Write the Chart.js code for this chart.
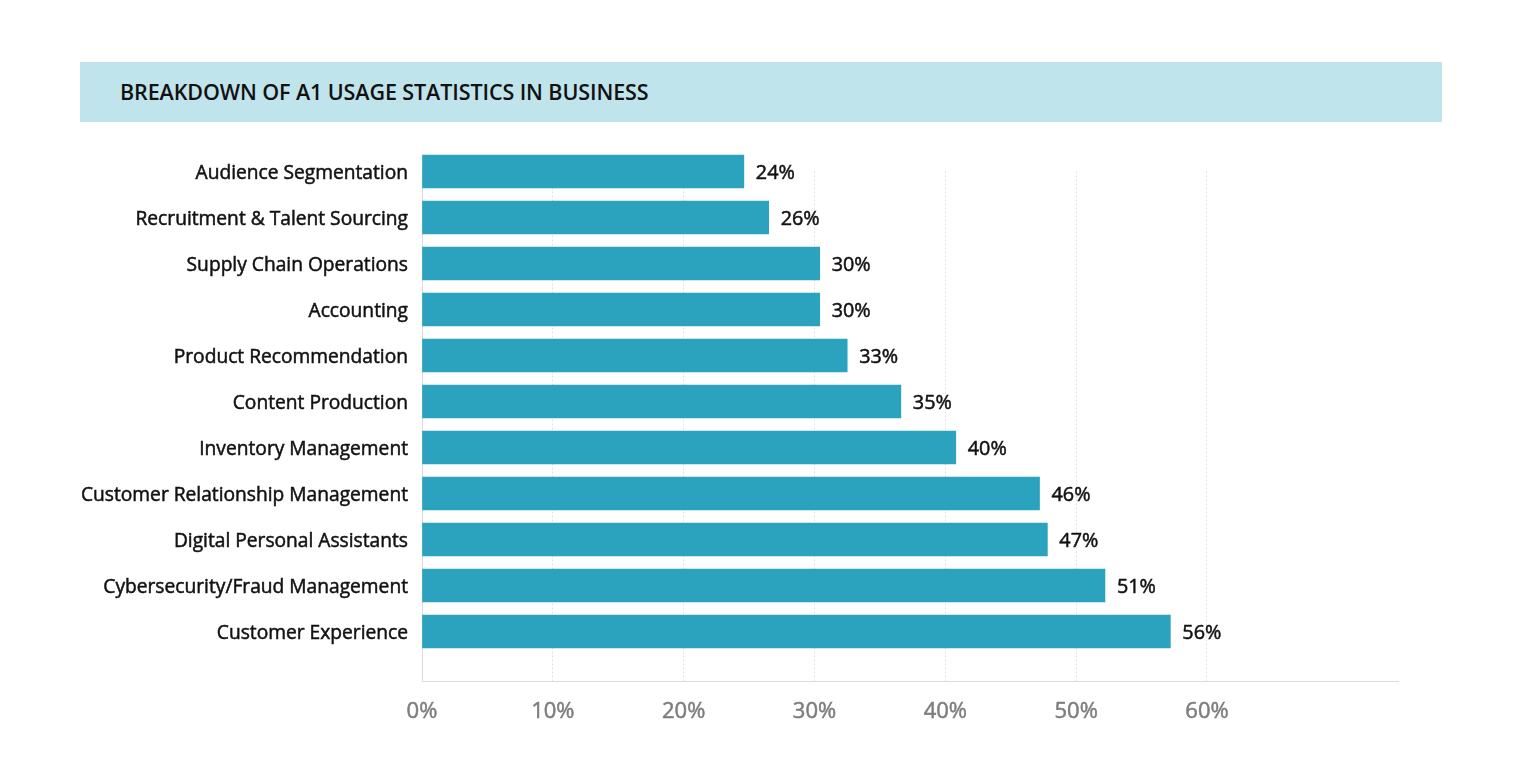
<!DOCTYPE html>
<html>
<head>
<meta charset="utf-8">
<title>Breakdown of A1 usage statistics in business</title>
<script src="https://cdn.jsdelivr.net/npm/chart.js@4/dist/chart.umd.min.js"></script>
<style>
    html, body { margin: 0; padding: 0; background: #fff; }
    body { width: 1521px; height: 781px; position: relative; overflow: hidden; font-family: "Open Sans", sans-serif; }
    .title-bar {
        position: absolute; left: 80px; top: 62px; width: 1362px; height: 60px;
        background: #c0e4ec; box-sizing: border-box; padding-left: 40px;
        font-size: 21.5px; font-weight: 600; color: #111; line-height: 60px;
        letter-spacing: -0.1px;
    }
    #chartWrap { position: absolute; left: 0; top: 0; width: 1521px; height: 781px; }
</style>
</head>
<body>
<div class="title-bar">BREAKDOWN OF A1 USAGE STATISTICS IN BUSINESS</div>
<div id="chartWrap"><canvas id="usageChart"></canvas></div>

<script>
// categories, top to bottom
const categories = [
    'Audience Segmentation',
    'Recruitment & Talent Sourcing',
    'Supply Chain Operations',
    'Accounting',
    'Product Recommendation',
    'Content Production',
    'Inventory Management',
    'Customer Relationship Management',
    'Digital Personal Assistants',
    'Cybersecurity/Fraud Management',
    'Customer Experience'
];

// bar lengths as drawn in the picture (%)
const barValues = [24.6, 26.5, 30.4, 30.4, 32.5, 36.6, 40.8, 47.2, 47.8, 52.2, 57.2];

// value labels as printed next to the bars
const valueLabels = ['24%', '26%', '30%', '30%', '33%', '35%', '40%', '46%', '47%', '51%', '56%'];

// x axis ticks
const xTicks = [0, 10, 20, 30, 40, 50, 60];

const barColor = '#2ba3bf';

// labels at the end of each bar
const barLabelPlugin = {
    id: 'barLabels',
    afterDatasetsDraw(chart) {
        const ctx = chart.ctx;
        const meta = chart.getDatasetMeta(0);
        ctx.save();
        ctx.font = '19.8px "Open Sans", sans-serif';
        ctx.fillStyle = '#111';
        ctx.strokeStyle = '#111';
        ctx.lineWidth = 0.5;
        ctx.textAlign = 'left';
        ctx.textBaseline = 'middle';
        meta.data.forEach((bar, i) => {
            ctx.strokeText(valueLabels[i], bar.x + 12, bar.y + 1.5);
            ctx.fillText(valueLabels[i], bar.x + 12, bar.y + 1.5);
        });
        ctx.restore();
    }
};

document.addEventListener('DOMContentLoaded', function() {
    const ctx = document.getElementById('usageChart').getContext('2d');

    new Chart(ctx, {
        type: 'bar',
        data: {
            datasets: [{
                data: barValues.map((v, i) => ({ x: v, y: i })),
                backgroundColor: barColor,
                borderWidth: 0,
                barThickness: 33,
                clip: false
            }]
        },
        options: {
            indexAxis: 'y',
            responsive: true,
            maintainAspectRatio: false,
            animation: false,
            layout: {
                padding: { left: 0, right: 123, top: 171.5, bottom: 0 }
            },
            plugins: {
                legend: { display: false },
                tooltip: { enabled: false }
            },
            scales: {
                x: {
                    type: 'linear',
                    min: 0,
                    max: 74.6,
                    afterBuildTicks: scale => {
                        scale.ticks = xTicks.map(v => ({ value: v }));
                    },
                    afterFit: scale => { scale.height = 100; },
                    ticks: {
                        padding: 18,
                        color: '#7d7d7d',
                        textStrokeColor: '#7d7d7d',
                        textStrokeWidth: 0.5,
                        font: { family: '"Open Sans", sans-serif', size: 22 },
                        callback: v => v + '%'
                    },
                    grid: {
                        drawTicks: false,
                        color: ctx => ctx.tick && ctx.tick.value === 0 ? 'rgba(0,0,0,0)' : '#e2e2e2',
                        lineWidth: 1
                    },
                    border: { display: true, color: '#dcdcdc', width: 1, dash: [2, 2] }
                },
                y: {
                    type: 'linear',
                    reverse: true,
                    offset: false,
                    min: 0,
                    max: 11.076,
                    afterBuildTicks: scale => {
                        scale.ticks = categories.map((c, i) => ({ value: i }));
                    },
                    afterFit: scale => { scale.width = 422; },
                    ticks: {
                        padding: 14,
                        labelOffset: 2.5,
                        color: '#111',
                        textStrokeColor: '#111',
                        textStrokeWidth: 0.5,
                        font: { family: '"Open Sans", sans-serif', size: 19.2 },
                        callback: v => categories[v]
                    },
                    grid: { display: false, drawTicks: false, offset: false },
                    border: { display: true, color: '#dcdcdc', width: 1 }
                }
            }
        },
        plugins: [barLabelPlugin]
    });
});
</script>
</body>
</html>
